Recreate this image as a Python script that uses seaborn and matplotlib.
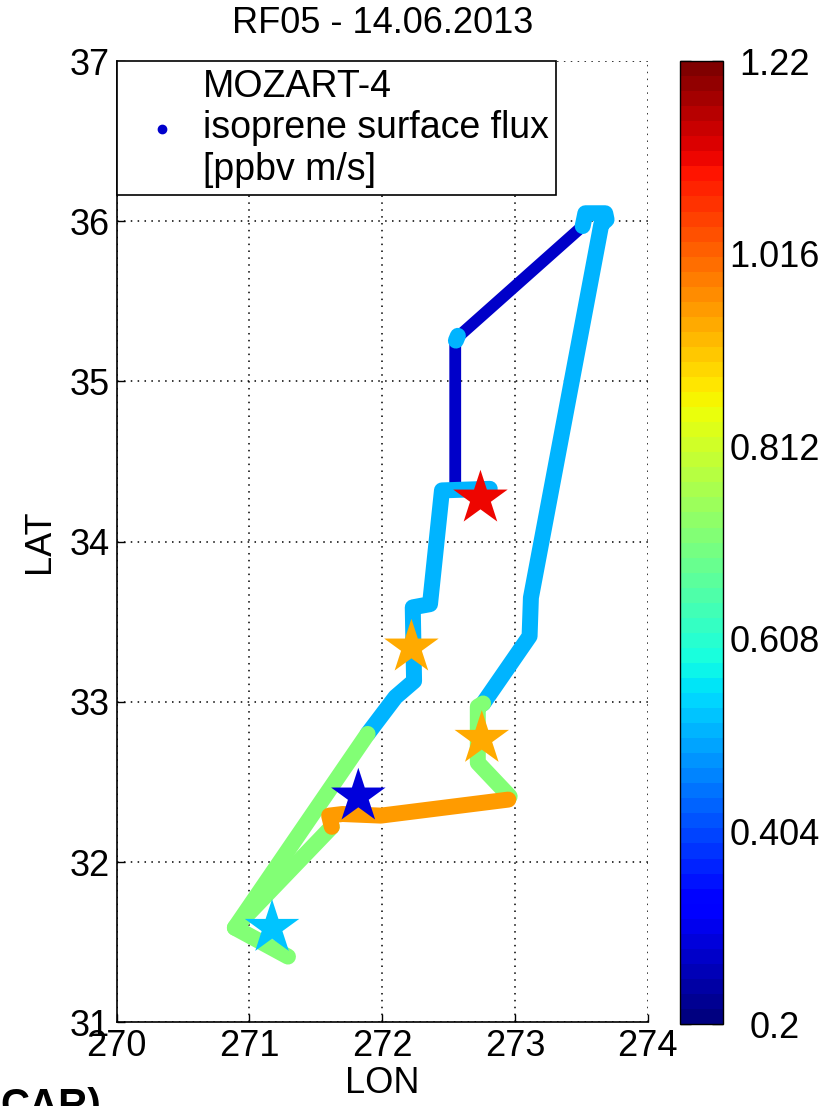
import numpy as np
import pandas as pd
import seaborn as sns
import matplotlib
import matplotlib.pyplot as plt
from matplotlib.lines import Line2D

sns.set_style("white")
plt.rcParams["font.family"] = ["Liberation Sans", "DejaVu Sans"]
plt.rcParams["text.color"] = "black"
plt.rcParams["axes.labelcolor"] = "black"

# flight legs (lon, lat) with the modelled isoprene surface flux along each leg
leg_lon = [
    [273.51, 272.56, 272.55, 272.55],
    [272.72, 272.82],
    [273.51, 273.53, 273.68, 273.69, 273.65, 273.12, 273.11, 272.76],
    [272.81, 272.45, 272.36, 272.23, 272.24, 272.10, 271.89],
    [272.555, 272.57],
    [272.76, 272.72, 272.72, 272.96],
    [271.89, 270.89, 271.29],
    [271.62, 270.89],
    [271.62, 271.60, 271.70, 271.99, 272.95],
]
leg_lat = [
    [35.97, 35.27, 35.25, 34.36],
    [34.32, 34.31],
    [35.97, 36.05, 36.05, 36.01, 35.98, 33.65, 33.41, 32.99],
    [34.33, 34.32, 33.61, 33.59, 33.13, 33.03, 32.80],
    [35.255, 35.285],
    [32.99, 32.97, 32.62, 32.41],
    [32.80, 31.59, 31.41],
    [32.22, 31.59],
    [32.22, 32.29, 32.30, 32.29, 32.39],
]
leg_flux = [0.27, 0.27, 0.51, 0.51, 0.51, 0.72, 0.72, 0.72, 0.95]

# star markers
star_lon = [272.74, 272.22, 272.75, 271.82, 271.17]
star_lat = [34.27, 33.34, 32.77, 32.41, 31.59]
star_flux = [1.12, 0.945, 0.945, 0.29, 0.52]

cbar_ticks = [0.2, 0.404, 0.608, 0.812, 1.016, 1.22]
cbar_labels = ["0.2", "0.404", "0.608", "0.812", "1.016", "1.22"]
x_ticks = [270, 271, 272, 273, 274]
y_ticks = [31, 32, 33, 34, 35, 36, 37]

rows = []
for i, (lo, la, f) in enumerate(zip(leg_lon, leg_lat, leg_flux)):
    for a, b in zip(lo, la):
        rows.append({"leg": i, "lon": a, "lat": b, "flux": f})
df = pd.DataFrame(rows)

cmap = matplotlib.colormaps["jet"].resampled(64)
norm = matplotlib.colors.Normalize(vmin=0.2, vmax=1.22)

fig = plt.figure(figsize=(8.36, 11.06), dpi=100)
ax = fig.add_axes([0.1396, 0.0757, 0.6352, 0.8691])
cax = fig.add_axes([0.8138, 0.0741, 0.0514, 0.8707])

line_kw = dict(x="lon", y="lat", hue="flux", units="leg", estimator=None,
               sort=False, palette=cmap, hue_norm=norm, legend=False,
               solid_capstyle="round", solid_joinstyle="round", ax=ax)
sns.lineplot(data=df[df["flux"] < 0.4], lw=8.5, **line_kw)
sns.lineplot(data=df[df["flux"] >= 0.4], lw=11.5, **line_kw)

sns.scatterplot(x=star_lon, y=star_lat, hue=star_flux, palette=cmap,
                hue_norm=norm, marker="*", s=1700, linewidth=0,
                legend=False, zorder=5, ax=ax)

ax.set_xlim(270, 274)
ax.set_ylim(31, 37)
ax.set_xticks(x_ticks)
ax.set_yticks(y_ticks)
ax.grid(True, color="black", lw=1.1, dashes=(1, 3.5))
ax.set_axisbelow(True)
for s in ["top", "right"]:
    ax.spines[s].set_visible(False)
for s in ["left", "bottom"]:
    ax.spines[s].set_color("black")
    ax.spines[s].set_linewidth(1.2)
ax.tick_params(direction="in", length=6, width=1, labelsize=26, pad=5,
               left=True, bottom=True, colors="black")
ax.set_xlabel("LON", fontsize=26)
ax.set_ylabel("LAT", fontsize=26)
ax.xaxis.set_label_coords(0.5, -0.045)
ax.yaxis.set_label_coords(-0.112, 0.5)
ax.set_title("RF05 - 14.06.2013", fontsize=26, pad=20, color="black")

proxy = Line2D([], [], marker="o", ls="", color="#0000CC", markersize=6)
leg = ax.legend(handles=[proxy],
                labels=["MOZART-4\nisoprene surface flux\n[ppbv m/s]"],
                loc="upper left", bbox_to_anchor=(0, 1), borderaxespad=0,
                fontsize=27, frameon=True, fancybox=False, framealpha=1,
                edgecolor="black", borderpad=0.2, handlelength=2.0,
                handletextpad=0.1)
leg.get_frame().set_linewidth(1.2)
leg.set_zorder(10)

sm = matplotlib.cm.ScalarMappable(norm=norm, cmap=cmap)
cb = fig.colorbar(sm, cax=cax)
cb.set_ticks(cbar_ticks)
cb.set_ticklabels(cbar_labels)
cb.ax.yaxis.set_minor_locator(matplotlib.ticker.FixedLocator(
    [0.302, 0.506, 0.71, 0.914, 1.118]))
cb.ax.tick_params(which="both", direction="in", left=True, right=True,
                  length=8, width=1, colors="black")
cb.ax.tick_params(which="major", labelsize=26, pad=37)
for t in cb.ax.get_yticklabels():
    t.set_ha("center")
cb.outline.set_edgecolor("black")
cb.outline.set_linewidth(1)

fig.text(0.0, -0.01, "CAR)", fontsize=29, fontweight="bold",
         va="baseline", ha="left")

fig.savefig("out.png", dpi=100)
